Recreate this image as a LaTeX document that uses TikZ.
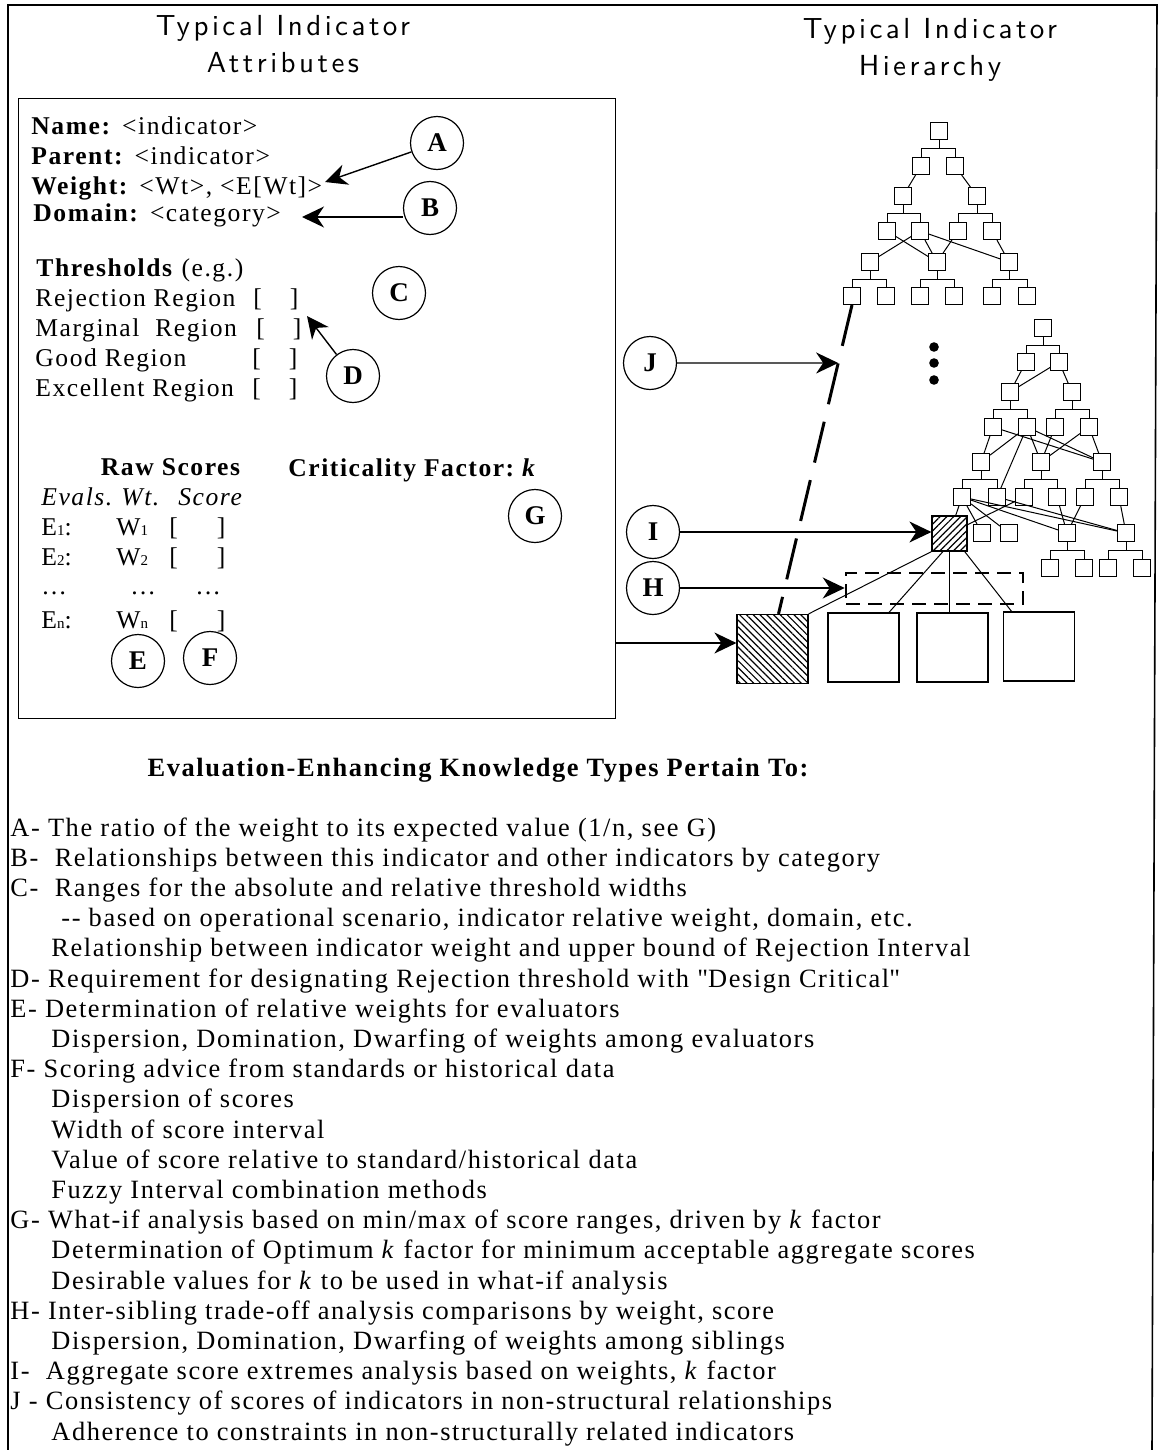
\documentclass[tikz,border=0pt]{standalone}
\usepackage{fontspec}
\setmainfont{Liberation Serif}[LetterSpace=6]
\newfontfamily\handfont{lmsans10-regular.otf}[LetterSpace=12]
\usetikzlibrary{arrows.meta,calc,patterns.meta}

\tikzset{
  ind/.style={draw, minimum size=8.5pt, inner sep=0pt, line width=0.5pt},
  bigbox/.style={draw, minimum width=35.5pt, minimum height=34.5pt, inner sep=0pt, line width=0.6pt},
  ktype/.style={draw, circle, minimum size=26.5pt, inner sep=0pt, line width=0.6pt,
    font=\bfseries\fontsize{13.5pt}{14pt}\selectfont},
  arr/.style={line width=0.7pt, -{Stealth[length=11pt, width=10.5pt, inset=3.5pt]}},
  tree/.style={line width=0.5pt},
  txt/.style={anchor=base west, inner sep=0pt, font=\fontsize{12.8pt}{15pt}\selectfont},
  listline/.style={anchor=base west, inner sep=0pt, font=\fontsize{13.2pt}{15pt}\selectfont},
  title/.style={align=center, inner sep=0pt, font=\handfont\fontsize{14.5pt}{18.5pt}\selectfont},
}
\newcommand{\ix}[1]{{\fontsize{7.5pt}{8pt}\selectfont #1}}
\newcommand{\rng}[2]{\makebox[#2][l]{#1}[\hspace{14pt}]}
\newcommand{\subline}{\hspace*{20.5pt}}

\begin{document}
\begin{tikzpicture}[x=0.5pt, y=-0.5pt]
\useasboundingbox (0,0) rectangle (1160,1450);

    % Draw the outer frame
    \draw[line width=0.8pt] (8,1450) -- (8,5) -- (1157,5) -- (1152,1450);

    % Titles
    \node[title] (ttlA) at (283,44) {Typical Indicator\\Attributes};
    \node[title] (ttlH) at (930,50) {Typical Indicator\\Hierarchy};

    % Draw the attribute box
    \node[draw, line width=0.7pt, anchor=north west, inner sep=0pt,
      minimum width=298.5pt, minimum height=310pt] (attr) at (18,98) {};

    % Attributes
    \node[txt] (nm) at (31,134) {\textbf{Name:} <indicator>};
    \node[txt] (par) at (31,164) {\textbf{Parent:} <indicator>};
    \node[txt] (wt) at (31,194) {\textbf{Weight:} <Wt>, <E[Wt]>};
    \node[txt] (dom) at (33,221) {\textbf{Domain:} <category>};
    \node[txt] (thr) at (36,276) {\textbf{Thresholds} (e.g.)};
    \node[txt] (rej) at (35,306) {\rng{Rejection Region}{109pt}};
    \node[txt] (mar) at (35,336) {\rng{Marginal\ \ Region}{110.5pt}};
    \node[txt] (good) at (35,366) {\rng{Good Region}{108.5pt}};
    \node[txt] (exc) at (35,396) {\rng{Excellent Region}{108.5pt}};

    % Raw scores and criticality
    \node[txt, anchor=base east] (raw) at (242,475) {\textbf{Raw Scores}};
    \node[txt] (cols) at (41,505) {\textit{\makebox[40pt][l]{Evals.}\makebox[28.5pt][l]{Wt.}Score}};
    \node[txt] (ev1) at (41,535) {\makebox[37.5pt][l]{E\ix{1}:}\makebox[26.5pt][l]{W\ix{1}}[\hspace{19.5pt}]};
    \node[txt] (ev2) at (41,565) {\makebox[37.5pt][l]{E\ix{2}:}\makebox[26.5pt][l]{W\ix{2}}[\hspace{19.5pt}]};
    \node[txt] (evd) at (41,594) {\makebox[44.5pt][l]{\ldots}\makebox[32.5pt][l]{\ldots}\ldots};
    \node[txt] (evn) at (41,628) {\makebox[37.5pt][l]{E\ix{n}:}\makebox[26.5pt][l]{W\ix{n}}[\hspace{19.5pt}]};
    \node[txt] (crit) at (288,476) {\textbf{Criticality Factor:\ \textit{k}}};

    % Knowledge type markers
    \node[ktype] (A) at (437,143) {A};
    \node[ktype] (B) at (430,208) {B};
    \node[ktype] (C) at (399,293) {C};
    \node[ktype] (D) at (353,376) {D};
    \node[ktype] (E) at (138,661) {E};
    \node[ktype] (F) at (210,658) {F};
    \node[ktype] (G) at (535,516) {G};
    \node[ktype] (J) at (650,363) {J};
    \node[ktype] (I) at (653,532) {I};
    \node[ktype] (H) at (653,588) {H};

    \coordinate (tipA) at (325,182);
    \coordinate (tipB) at (302,217);
    \coordinate (tipD) at (307,316);
    \draw[arr] (A) -- (tipA);
    \draw[arr] (B.west |- tipB) -- (tipB);
    \draw[arr] (D) -- (tipD);

    % Upper tree
    \foreach \n/\x/\y in {u0/939/131, u1a/921/166, u1b/955/166, u2a/903/196, u2b/977/196,
      u3a/887/231, u3b/920/231, u3c/958/231, u3d/992/231,
      u4a/870/262, u4b/937/262, u4c/1009/262,
      u5a/852/296, u5b/886/296, u5c/920/296, u5d/954/296, u5e/992/296, u5f/1027/296}
      \node[ind] (\n) at (\x,\y) {};

    % Lower tree
    \foreach \n/\x/\y in {v0/1043/328, v1a/1026/362, v1b/1059/362, v2a/1010/392, v2b/1072/392,
      v3a/993/427, v3b/1027/427, v3c/1055/427, v3d/1089/427,
      v4a/981/462, v4b/1041/462, v4c/1102/462,
      v5a/962/497, v5b/997/497, v5c/1024/497, v5d/1057/497, v5e/1085/497, v5f/1119/497,
      v6b/982/533, v6c/1009/533, v6d/1067/533, v6e/1126/533,
      v7a/1050/568, v7b/1084/568, v7c/1108/568, v7d/1142/568}
      \node[ind] (\n) at (\x,\y) {};
    \node[draw, minimum size=17.5pt, inner sep=0pt, line width=0.6pt,
      pattern={Lines[angle=45, distance=2.4pt, line width=0.6pt]}] (h) at (949.5,533.5) {};

    % Parent-child brackets
    \foreach \p/\c in {u0/u1a, u0/u1b, u2a/u3a, u2a/u3b, u2b/u3c, u2b/u3d,
      u4a/u5a, u4a/u5b, u4b/u5c, u4b/u5d, u4c/u5e, u4c/u5f,
      v0/v1a, v0/v1b, v2a/v3a, v2a/v3b, v2b/v3c, v2b/v3d,
      v4a/v5a, v4a/v5b, v4b/v5c, v4b/v5d, v4c/v5e, v4c/v5f,
      v6d/v7a, v6d/v7b, v6e/v7c, v6e/v7d}
      \draw[tree] (\p.south) -- ++(0,8.5) -| (\c.north);

    % Cross links
    \foreach \p/\c in {u1a/u2a, u1b/u2b, u3a/u4b, u3b/u4a, u3b/u4b, u3c/u4b, u3b/u4c, u3d/u4c,
      v1a/v2a, v1b/v2a, v1b/v2b, v3a/v4a, v3a/v4c, v3b/v4a, v3b/v4b, v3b/v4c, v3b/v5b,
      v3c/v4b, v3d/v4b, v3d/v4c,
      v5a/h, v5a/v6b, v5a/v6c, v5a/v6d, v5a/v6e, v5c/h, v5b/v6e,
      v5d/v6d, v5e/v6d, v5f/v6e}
      \draw[tree] (\p) -- (\c);

    % More trees
    \foreach \y in {347,363,380}
      \fill (934,\y) circle (2.4pt);

    % Siblings and leaf indicators
    \node[draw, dash pattern=on 7pt off 4pt, line width=1.3pt, minimum width=88.5pt,
      minimum height=15.5pt, inner sep=0pt] (sib) at (934.5,588.5) {};
    \node[bigbox, pattern={Lines[angle=-45, distance=2.4pt, line width=0.6pt]}] (bigH) at (772.5,649) {};
    \node[bigbox] (B1) at (863.5,647.5) {};
    \node[bigbox] (B2) at (952.5,647.5) {};
    \node[bigbox] (B3) at (1039,646.5) {};

    \draw[tree] (h.south west) -- (bigH.north east);
    \draw[tree] (h.250) -- (B1.54);
    \draw[tree] (h.south) -- (h.south |- B2.north);
    \draw[tree] (h.310) -- (B3.128);

    % Non-structural relationship
    \coordinate (dtop) at (u5a.south);
    \coordinate (bigtop) at ($(bigH.north)+(6,0)$);
    \draw[line width=1.5pt, dash pattern=on 21pt off 9pt] (dtop) -- (bigtop);
    \coordinate (jfar) at (J -| h);
    \coordinate (jhit) at (intersection of dtop--bigtop and J--jfar);

    % Arrows into the hierarchy
    \draw[arr] (J) -- (jhit);
    \draw[arr] (I) -- (I -| h.west);
    \draw[arr] (H) -- (H -| sib.west);
    \coordinate (bigin) at ($(bigH.west)+(0,-6)$);
    \draw[arr] (attr.east |- bigin) -- (bigin);

    % Knowledge types
    \node[listline, anchor=base, font=\bfseries\fontsize{13.2pt}{15pt}\selectfont] (kthead) at (478,776)
      {Evaluation-Enhancing Knowledge Types Pertain To:};
    \foreach \t [count=\i from 0] in {
      {A- The ratio of the weight to its expected value (1/n, see G)},
      {B-\ \ Relationships between this indicator and other indicators by category},
      {C-\ \ Ranges for the absolute and relative threshold widths},
      {\hspace*{25.5pt}-{}- based on operational scenario, indicator relative weight, domain, etc.},
      {\subline Relationship between indicator weight and upper bound of Rejection Interval},
      {D- Requirement for designating Rejection threshold with \textquotedbl Design Critical\textquotedbl},
      {E- Determination of relative weights for evaluators},
      {\subline Dispersion, Domination, Dwarfing of weights among evaluators},
      {F- Scoring advice from standards or historical data},
      {\subline Dispersion of scores},
      {\subline Width of score interval},
      {\subline Value of score relative to standard/historical data},
      {\subline Fuzzy Interval combination methods},
      {G- What-if analysis based on min/max of score ranges, driven by \textit{k} factor},
      {\subline Determination of Optimum \textit{k} factor for minimum acceptable aggregate scores},
      {\subline Desirable values for \textit{k} to be used in what-if analysis},
      {H- Inter-sibling trade-off analysis comparisons by weight, score},
      {\subline Dispersion, Domination, Dwarfing of weights among siblings},
      {I-\ \ Aggregate score extremes analysis based on weights, \textit{k} factor},
      {J - Consistency of scores of indicators in non-structural relationships},
      {\subline Adherence to constraints in non-structurally related indicators}}
      \node[listline] (kt\i) at (10,836+30.2*\i) {\t};
\end{tikzpicture}
\end{document}
